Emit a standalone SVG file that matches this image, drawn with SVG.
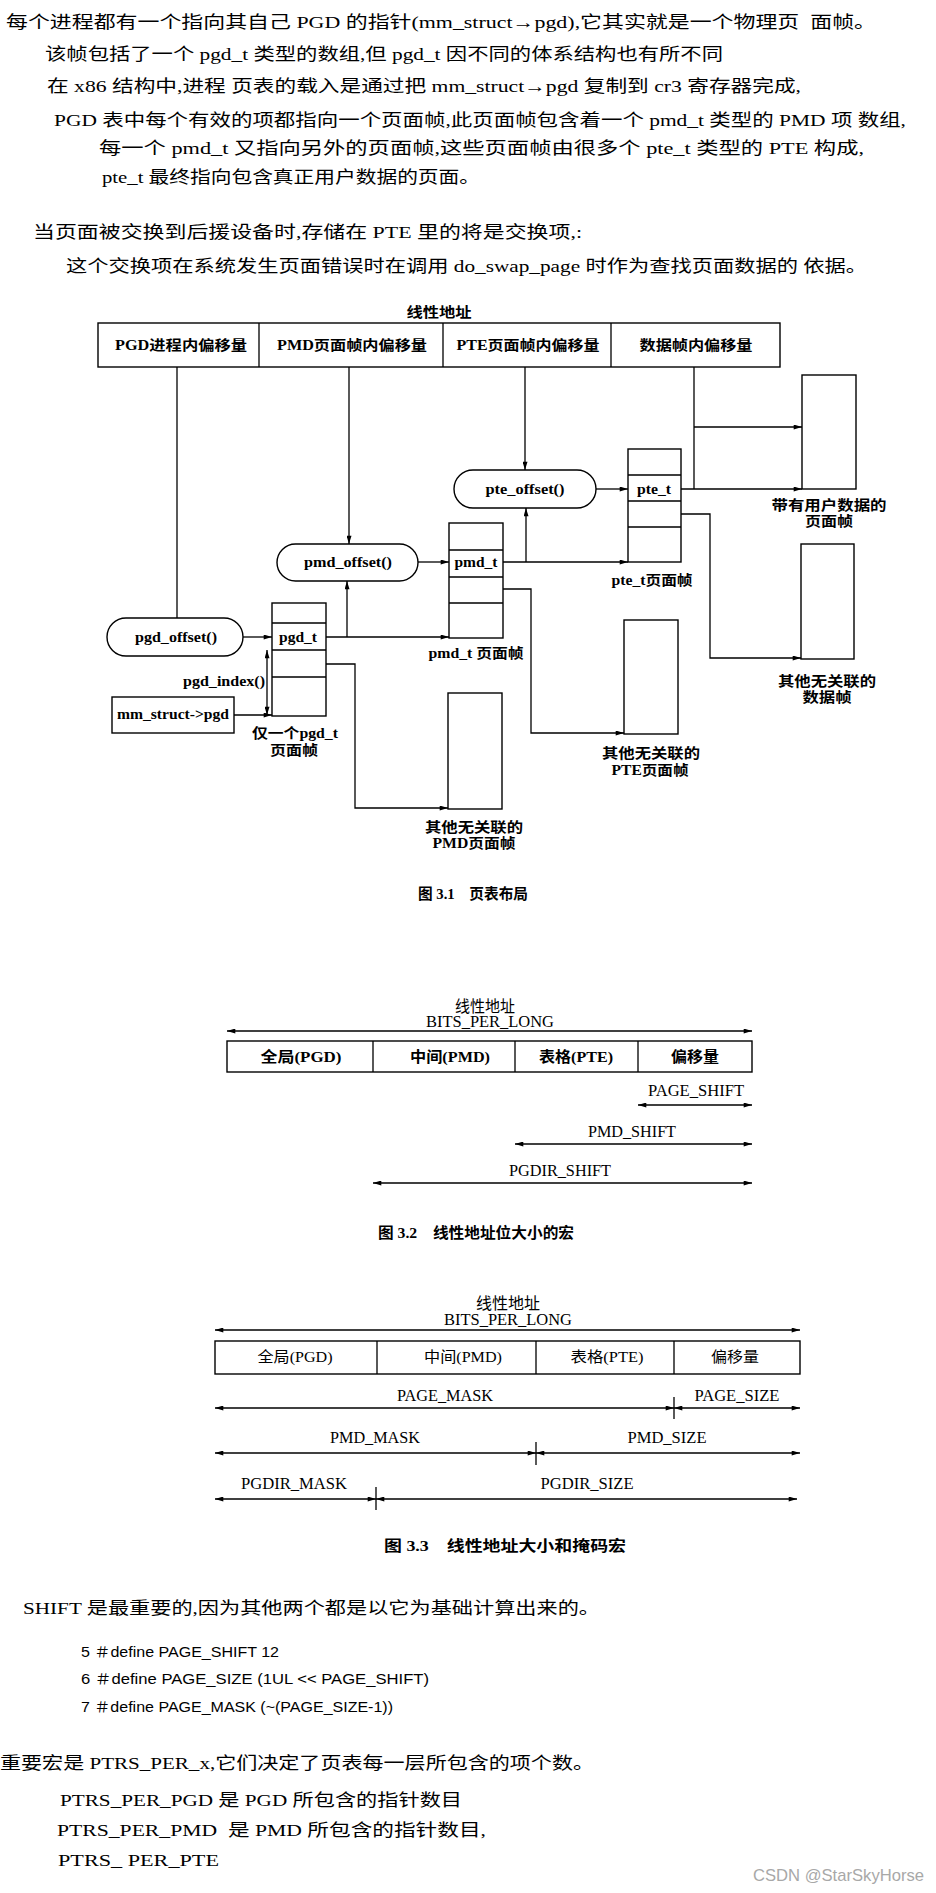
<svg xmlns="http://www.w3.org/2000/svg" width="936" height="1893" viewBox="0 0 936 1893">
<style>
text { font-family: 'Liberation Serif', 'Noto Sans CJK SC', serif; fill: #000; dominant-baseline: central; }
.body { font-size: 17px; }
.code { font-family: 'Liberation Sans Narrow', 'Liberation Sans', 'Noto Sans CJK SC', sans-serif; font-size: 14px; }
.lbl { font-size: 14px; font-weight: bold; text-anchor: middle; }
.cap { font-size: 15px; font-weight: bold; }
.mac { font-size: 16px; text-anchor: middle; }
.cell { font-size: 15px; text-anchor: middle; }
.box { fill: #fff; stroke: #000; stroke-width: 1.4; }
.ln { fill: none; stroke: #000; stroke-width: 1.3; }
.arr { fill: none; stroke: #000; stroke-width: 1.3; marker-end: url(#ah); }
.darr { fill: none; stroke: #000; stroke-width: 1.3; marker-start: url(#ah); marker-end: url(#ah); }
.wm { font-family: 'Liberation Sans', sans-serif; font-size: 17px; fill: #a8a8a8; }
</style>
<defs>
<marker id="ah" viewBox="0 0 10 6" refX="10" refY="3" markerWidth="10" markerHeight="5" markerUnits="userSpaceOnUse" orient="auto-start-reverse">
<path d="M0,0 L10,3 L0,6 z" fill="#000"/>
</marker>
</defs>
<rect width="936" height="1893" fill="#fff"/>

<g id="intro-text">
<text class="body" x="6" y="22" textLength="870" lengthAdjust="spacingAndGlyphs" xml:space="preserve">每个进程都有一个指向其自己 PGD 的指针(mm_struct→pgd),它其实就是一个物理页  面帧。</text>
<text class="body" x="45" y="54" textLength="678" lengthAdjust="spacingAndGlyphs">该帧包括了一个 pgd_t 类型的数组,但 pgd_t 因不同的体系结构也有所不同</text>
<text class="body" x="47" y="86" textLength="754" lengthAdjust="spacingAndGlyphs">在 x86 结构中,进程 页表的载入是通过把 mm_struct→pgd 复制到 cr3 寄存器完成,</text>
<text class="body" x="54" y="120" textLength="852" lengthAdjust="spacingAndGlyphs">PGD 表中每个有效的项都指向一个页面帧,此页面帧包含着一个 pmd_t 类型的 PMD 项 数组,</text>
<text class="body" x="99" y="148" textLength="765" lengthAdjust="spacingAndGlyphs">每一个 pmd_t 又指向另外的页面帧,这些页面帧由很多个 pte_t 类型的 PTE 构成,</text>
<text class="body" x="102" y="177" textLength="378" lengthAdjust="spacingAndGlyphs">pte_t 最终指向包含真正用户数据的页面。</text>
<text class="body" x="33" y="232" textLength="549" lengthAdjust="spacingAndGlyphs">当页面被交换到后援设备时,存储在 PTE 里的将是交换项,:</text>
<text class="body" x="66" y="266" textLength="801" lengthAdjust="spacingAndGlyphs">这个交换项在系统发生页面错误时在调用 do_swap_page 时作为查找页面数据的 依据。</text>
</g>

<!-- Figure 3.1 -->
<g id="fig31-linear-address">
<text class="lbl" x="439" y="312" textLength="65" lengthAdjust="spacingAndGlyphs">线性地址</text>
<rect class="box" x="98" y="323" width="682" height="44"/>
<path class="ln" d="M259,323 V367 M443,323 V367 M611,323 V367"/>
<text class="lbl" x="181" y="345" textLength="132" lengthAdjust="spacingAndGlyphs">PGD进程内偏移量</text>
<text class="lbl" x="352" y="345" textLength="150" lengthAdjust="spacingAndGlyphs">PMD页面帧内偏移量</text>
<text class="lbl" x="528" y="345" textLength="143" lengthAdjust="spacingAndGlyphs">PTE页面帧内偏移量</text>
<text class="lbl" x="696" y="345" textLength="113" lengthAdjust="spacingAndGlyphs">数据帧内偏移量</text>
</g>

<g id="pgd-offset">
<rect class="box" x="107" y="618" width="136" height="38" rx="19"/>
<text class="lbl" x="176" y="637" textLength="82" lengthAdjust="spacingAndGlyphs">pgd_offset()</text>
</g>
<g id="pmd-offset">
<rect class="box" x="277" y="544" width="141" height="37" rx="18.5"/>
<text class="lbl" x="348" y="562" textLength="88" lengthAdjust="spacingAndGlyphs">pmd_offset()</text>
</g>
<g id="pte-offset">
<rect class="box" x="454" y="470" width="142" height="38" rx="19"/>
<text class="lbl" x="525" y="489" textLength="79" lengthAdjust="spacingAndGlyphs">pte_offset()</text>
</g>

<g id="pgd-frame">
<rect class="box" x="272" y="603" width="54" height="113"/>
<path class="ln" d="M272,623 H326 M272,650 H326 M272,677 H326"/>
<text class="lbl" x="298" y="637" textLength="38" lengthAdjust="spacingAndGlyphs">pgd_t</text>
<text class="lbl" x="295" y="733" textLength="86" lengthAdjust="spacingAndGlyphs">仅一个pgd_t</text>
<text class="lbl" x="294" y="750" textLength="48" lengthAdjust="spacingAndGlyphs">页面帧</text>
</g>

<g id="pmd-frame">
<rect class="box" x="449" y="523" width="54" height="115"/>
<path class="ln" d="M449,550 H503 M449,577 H503 M449,603 H503"/>
<text class="lbl" x="476" y="562" textLength="43" lengthAdjust="spacingAndGlyphs">pmd_t</text>
<text class="lbl" x="476" y="653" textLength="95" lengthAdjust="spacingAndGlyphs" xml:space="preserve">pmd_t 页面帧</text>
</g>

<g id="pte-frame">
<rect class="box" x="628" y="449" width="53" height="113"/>
<path class="ln" d="M628,475 H681 M628,501 H681 M628,527 H681"/>
<text class="lbl" x="654" y="489" textLength="34" lengthAdjust="spacingAndGlyphs">pte_t</text>
<text class="lbl" x="652" y="580" textLength="81" lengthAdjust="spacingAndGlyphs">pte_t页面帧</text>
</g>

<g id="user-data-frame">
<rect class="box" x="802" y="375" width="54" height="114"/>
<text class="lbl" x="829" y="505" textLength="115" lengthAdjust="spacingAndGlyphs">带有用户数据的</text>
<text class="lbl" x="829" y="521" textLength="48" lengthAdjust="spacingAndGlyphs">页面帧</text>
</g>

<g id="other-data-frame">
<rect class="box" x="801" y="544" width="53" height="115"/>
<text class="lbl" x="827" y="681" textLength="98" lengthAdjust="spacingAndGlyphs">其他无关联的</text>
<text class="lbl" x="827" y="697" textLength="49" lengthAdjust="spacingAndGlyphs">数据帧</text>
</g>

<g id="other-pte-frame">
<rect class="box" x="624" y="620" width="54" height="114"/>
<text class="lbl" x="651" y="753" textLength="98" lengthAdjust="spacingAndGlyphs">其他无关联的</text>
<text class="lbl" x="650" y="770" textLength="77" lengthAdjust="spacingAndGlyphs">PTE页面帧</text>
</g>

<g id="other-pmd-frame">
<rect class="box" x="448" y="693" width="54" height="116"/>
<text class="lbl" x="474" y="827" textLength="98" lengthAdjust="spacingAndGlyphs">其他无关联的</text>
<text class="lbl" x="474" y="843" textLength="83" lengthAdjust="spacingAndGlyphs">PMD页面帧</text>
</g>

<g id="mm-struct">
<rect class="box" x="112" y="697" width="122" height="36"/>
<text class="lbl" x="173" y="714" textLength="112" lengthAdjust="spacingAndGlyphs">mm_struct-&gt;pgd</text>
</g>

<g id="pgd-index-label">
<text class="lbl" x="224" y="681" textLength="82" lengthAdjust="spacingAndGlyphs">pgd_index()</text>
</g>

<g id="fig31-connectors">
<path class="ln" d="M177,367 V618"/>
<path class="arr" d="M349,367 V544"/>
<path class="arr" d="M525,367 V470"/>
<path class="ln" d="M694,367 V489"/>
<path class="arr" d="M694,427 H802"/>
<path class="arr" d="M681,489 H802"/>
<path class="arr" d="M681,514 H710 V658 H801"/>
<path class="arr" d="M596,489 H628"/>
<path class="arr" d="M418,562 H449"/>
<path class="arr" d="M503,562 H628"/>
<path class="arr" d="M526,562 V508"/>
<path class="arr" d="M503,589 H531 V733 H624"/>
<path class="arr" d="M243,637 H272"/>
<path class="arr" d="M326,637 H449"/>
<path class="arr" d="M347,637 V581"/>
<path class="arr" d="M326,664 H355 V808 H448"/>
<path class="arr" d="M234,715 H272"/>
<path class="darr" d="M267,650 V715"/>
</g>

<g id="fig31-caption">
<text class="cap" x="418" y="894" textLength="110" lengthAdjust="spacingAndGlyphs" xml:space="preserve">图 3.1    页表布局</text>
</g>

<!-- Figure 3.2 -->
<g id="fig32-address">
<text class="mac" x="485" y="1006" textLength="60" lengthAdjust="spacingAndGlyphs">线性地址</text>
<text class="mac" x="490" y="1021" textLength="128" lengthAdjust="spacingAndGlyphs">BITS_PER_LONG</text>
<rect class="box" x="227" y="1041" width="525" height="31"/>
<path class="ln" d="M373,1041 V1072 M515,1041 V1072 M638,1041 V1072"/>
<text class="cell" x="301" y="1057" font-weight="bold" textLength="81" lengthAdjust="spacingAndGlyphs">全局(PGD)</text>
<text class="cell" x="450" y="1057" font-weight="bold" textLength="80" lengthAdjust="spacingAndGlyphs">中间(PMD)</text>
<text class="cell" x="576" y="1057" font-weight="bold" textLength="74" lengthAdjust="spacingAndGlyphs">表格(PTE)</text>
<text class="cell" x="695" y="1057" font-weight="bold" textLength="48" lengthAdjust="spacingAndGlyphs">偏移量</text>
</g>
<g id="fig32-macros">
<text class="mac" x="696" y="1090" textLength="96" lengthAdjust="spacingAndGlyphs">PAGE_SHIFT</text>
<text class="mac" x="632" y="1131" textLength="88" lengthAdjust="spacingAndGlyphs">PMD_SHIFT</text>
<text class="mac" x="560" y="1170" textLength="102" lengthAdjust="spacingAndGlyphs">PGDIR_SHIFT</text>
</g>
<g id="fig32-connectors">
<path class="darr" d="M227,1031 H752"/>
<path class="darr" d="M638,1105 H752"/>
<path class="darr" d="M515,1144 H752"/>
<path class="darr" d="M373,1183 H752"/>
</g>
<g id="fig32-caption">
<text class="cap" x="378" y="1233" textLength="196" lengthAdjust="spacingAndGlyphs" xml:space="preserve">图 3.2    线性地址位大小的宏</text>
</g>

<!-- Figure 3.3 -->
<g id="fig33-address">
<text class="mac" x="508" y="1303" textLength="64" lengthAdjust="spacingAndGlyphs">线性地址</text>
<text class="mac" x="508" y="1319" textLength="128" lengthAdjust="spacingAndGlyphs">BITS_PER_LONG</text>
<rect class="box" x="215" y="1341" width="585" height="33"/>
<path class="ln" d="M377,1341 V1374 M536,1341 V1374 M674,1341 V1374"/>
<text class="cell" x="295" y="1357" textLength="75" lengthAdjust="spacingAndGlyphs">全局(PGD)</text>
<text class="cell" x="463" y="1357" textLength="78" lengthAdjust="spacingAndGlyphs">中间(PMD)</text>
<text class="cell" x="607" y="1357" textLength="73" lengthAdjust="spacingAndGlyphs">表格(PTE)</text>
<text class="cell" x="735" y="1357" textLength="48" lengthAdjust="spacingAndGlyphs">偏移量</text>
</g>
<g id="fig33-macros">
<text class="mac" x="445" y="1395" textLength="96" lengthAdjust="spacingAndGlyphs">PAGE_MASK</text>
<text class="mac" x="737" y="1395" textLength="85" lengthAdjust="spacingAndGlyphs">PAGE_SIZE</text>
<text class="mac" x="375" y="1437" textLength="90" lengthAdjust="spacingAndGlyphs">PMD_MASK</text>
<text class="mac" x="667" y="1437" textLength="79" lengthAdjust="spacingAndGlyphs">PMD_SIZE</text>
<text class="mac" x="294" y="1483" textLength="106" lengthAdjust="spacingAndGlyphs">PGDIR_MASK</text>
<text class="mac" x="587" y="1483" textLength="93" lengthAdjust="spacingAndGlyphs">PGDIR_SIZE</text>
</g>
<g id="fig33-connectors">
<path class="darr" d="M215,1330 H800"/>
<path class="darr" d="M215,1408 H674"/>
<path class="darr" d="M674,1408 H800"/>
<path class="ln" d="M674,1397 V1419"/>
<path class="darr" d="M215,1453 H536"/>
<path class="darr" d="M536,1453 H800"/>
<path class="ln" d="M536,1442 V1465"/>
<path class="darr" d="M215,1499 H376"/>
<path class="darr" d="M376,1499 H797"/>
<path class="ln" d="M376,1487 V1510"/>
</g>
<g id="fig33-caption">
<text class="cap" x="384" y="1546" textLength="242" lengthAdjust="spacingAndGlyphs" xml:space="preserve">图 3.3    线性地址大小和掩码宏</text>
</g>

<g id="outro-text">
<text class="body" x="23" y="1608" textLength="577" lengthAdjust="spacingAndGlyphs">SHIFT 是最重要的,因为其他两个都是以它为基础计算出来的。</text>
<text class="code" x="81" y="1652" textLength="198" lengthAdjust="spacingAndGlyphs">5 ＃define PAGE_SHIFT 12</text>
<text class="code" x="81" y="1679" textLength="348" lengthAdjust="spacingAndGlyphs">6 ＃define PAGE_SIZE (1UL &lt;&lt; PAGE_SHIFT)</text>
<text class="code" x="81" y="1707" textLength="312" lengthAdjust="spacingAndGlyphs">7 ＃define PAGE_MASK (~(PAGE_SIZE-1))</text>
<text class="body" x="0" y="1763" textLength="594" lengthAdjust="spacingAndGlyphs">重要宏是 PTRS_PER_x,它们决定了页表每一层所包含的项个数。</text>
<text class="body" x="60" y="1800" textLength="402" lengthAdjust="spacingAndGlyphs">PTRS_PER_PGD 是 PGD 所包含的指针数目</text>
<text class="body" x="57" y="1830" textLength="429" lengthAdjust="spacingAndGlyphs" xml:space="preserve">PTRS_PER_PMD  是 PMD 所包含的指针数目,</text>
<text class="body" x="58" y="1860" textLength="161" lengthAdjust="spacingAndGlyphs">PTRS_ PER_PTE</text>
<text class="wm" x="753" y="1875" textLength="171" lengthAdjust="spacingAndGlyphs">CSDN @StarSkyHorse</text>
</g>
</svg>
